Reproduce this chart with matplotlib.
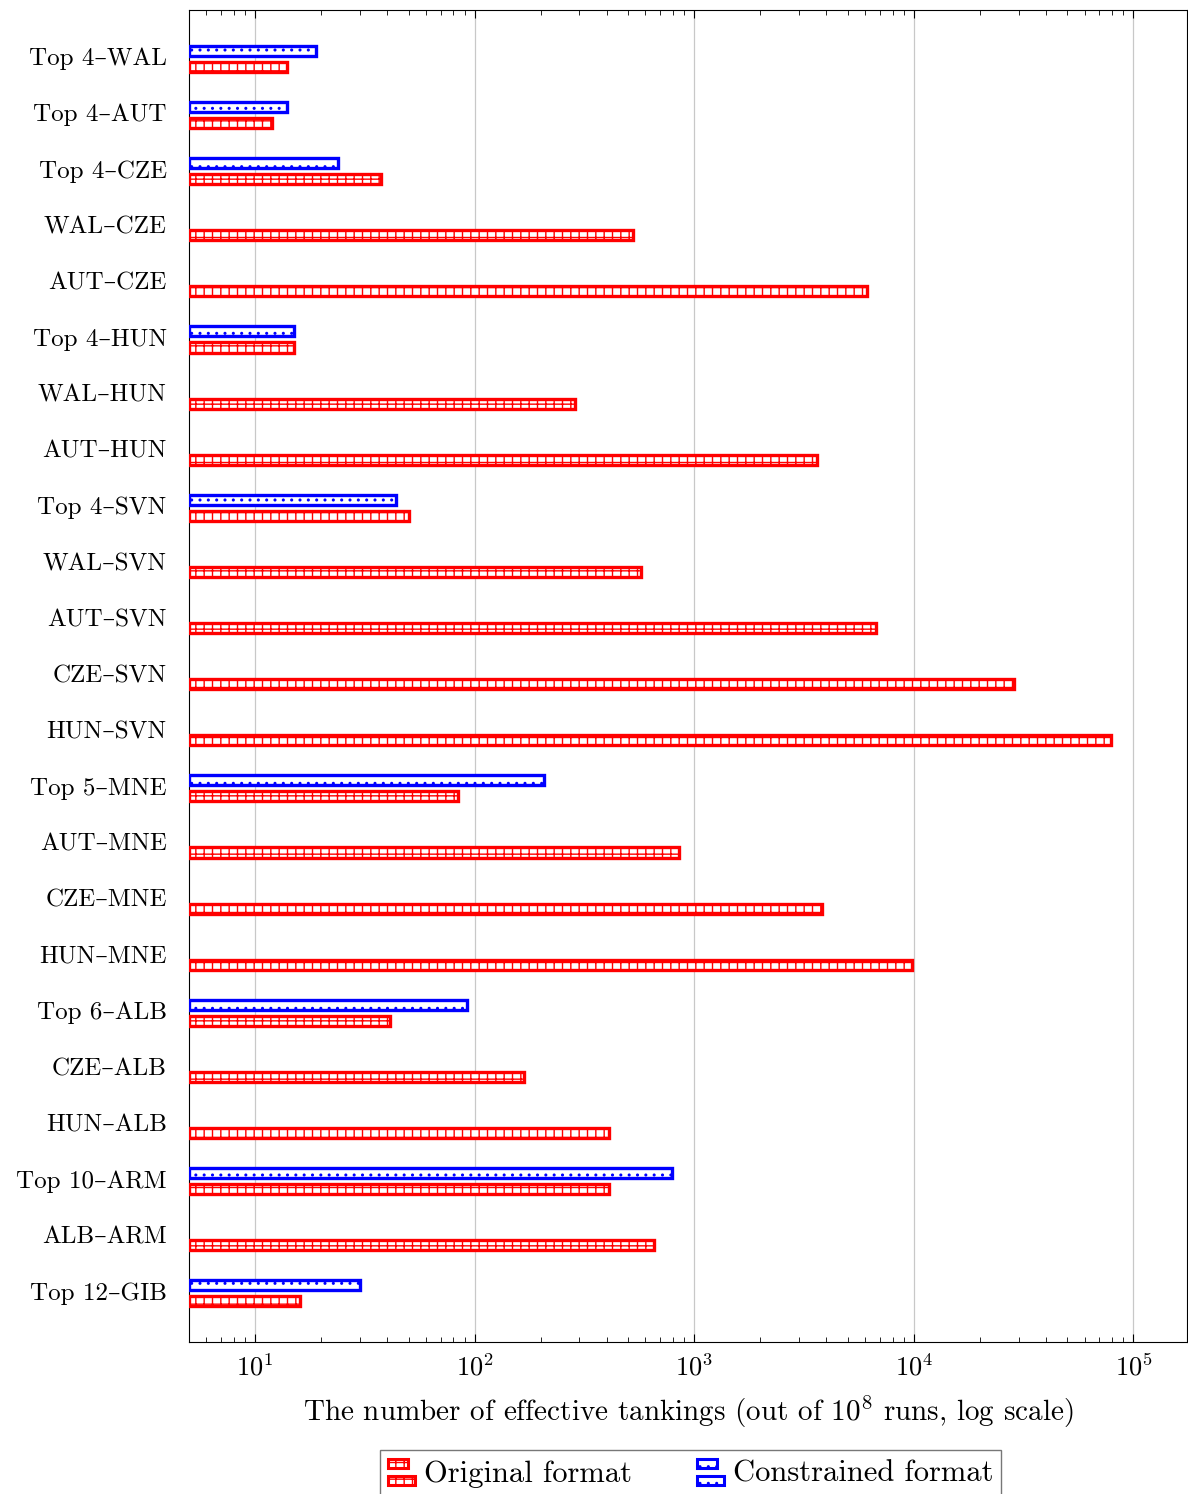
import matplotlib
matplotlib.use("Agg")
import matplotlib.pyplot as plt
import numpy as np
from matplotlib.patches import Patch, Rectangle
from matplotlib.legend_handler import HandlerBase
from matplotlib.ticker import LogLocator, NullFormatter

plt.rcParams['font.family'] = ['cmr10', 'DejaVu Serif']
plt.rcParams['mathtext.fontset'] = 'cm'
plt.rcParams['axes.formatter.use_mathtext'] = True
plt.rcParams['hatch.linewidth'] = 1.0

categories = ["Top 4–WAL", "Top 4–AUT", "Top 4–CZE", "WAL–CZE", "AUT–CZE",
              "Top 4–HUN", "WAL–HUN", "AUT–HUN", "Top 4–SVN", "WAL–SVN",
              "AUT–SVN", "CZE–SVN", "HUN–SVN", "Top 5–MNE", "AUT–MNE",
              "CZE–MNE", "HUN–MNE", "Top 6–ALB", "CZE–ALB", "HUN–ALB",
              "Top 10–ARM", "ALB–ARM", "Top 12–GIB"]
original = [14, 12, 37.5, 529, 6110, 15, 288, 3615, 50, 575, 6715, 28600, 79200,
            84, 849, 3810, 9800, 41, 168, 411, 411, 653, 16]
constrained = [19, 14, 24, None, None, 15, None, None, 44, None, None, None, None,
               206, None, None, None, 92, None, None, 789, None, 30]


class TwoBarHandler(HandlerBase):
    def create_artists(self, legend, orig_handle, xdescent, ydescent, width,
                       height, fontsize, trans):
        ec = orig_handle.get_edgecolor()
        hatch = orig_handle.get_hatch()
        bh = height * 0.32
        r1 = Rectangle((-xdescent, -ydescent + height * 0.62), width * 0.75, bh,
                       facecolor='white', edgecolor=ec, hatch=hatch, linewidth=2.2,
                       transform=trans)
        r2 = Rectangle((-xdescent, -ydescent + height * 0.0), width, bh,
                       facecolor='white', edgecolor=ec, hatch=hatch, linewidth=2.2,
                       transform=trans)
        return [r1, r2]


fig = plt.figure(figsize=(11.88, 14.94), dpi=100)
ax = fig.add_axes([0.159, 0.1017, 0.840, 0.8916])

y = np.arange(len(categories))
h = 0.18
off = 0.145
xmin = 5
ax.barh(y + off, np.array(original) - xmin, left=xmin, height=h, facecolor='white',
        edgecolor='red', hatch='++', linewidth=2.4, zorder=3)
cy = [yy for yy, v in zip(y, constrained) if v is not None]
cv = [v for v in constrained if v is not None]
ax.barh(np.array(cy) - off, np.array(cv) - xmin, left=xmin, height=h, facecolor='white',
        edgecolor='blue', hatch='..', linewidth=2.4, zorder=3)

ax.set_xscale('log')
ax.set_xlim(xmin, 1.75e5)
ax.set_ylim(len(categories) - 0.13, -0.87)
ax.set_yticks(y - 0.04)
ax.set_yticklabels(categories, fontsize=18)
ax.tick_params(axis='y', length=0, pad=16)
ax.xaxis.set_major_locator(LogLocator(base=10, numticks=10))
ax.xaxis.set_minor_locator(LogLocator(base=10, subs=np.arange(2, 10), numticks=10))
ax.xaxis.set_minor_formatter(NullFormatter())
ax.tick_params(axis='x', which='major', direction='in', top=True, length=6,
               labelsize=19, pad=8)
ax.tick_params(axis='x', which='minor', direction='in', top=True, length=3.5)
ax.grid(axis='x', which='major', color='#c8c8c8', linewidth=0.9, zorder=0)
ax.set_axisbelow(True)
ax.set_xlabel(r"The number of effective tankings (out of $10^8$ runs, log scale)",
              fontsize=21, labelpad=10)

handles = [Patch(facecolor='white', edgecolor='red', hatch='++', linewidth=2.2),
           Patch(facecolor='white', edgecolor='blue', hatch='..', linewidth=2.2)]
fig.legend(handles, ["Original format", "Constrained format"], loc='upper center',
           bbox_to_anchor=(0.5815, 0.0294), ncol=2, fontsize=22, frameon=True,
           fancybox=False, edgecolor='#555555', handlelength=0.9, handleheight=1.0,
           handletextpad=0.3, columnspacing=2.1, borderaxespad=0, borderpad=0.25,
           handler_map={Patch: TwoBarHandler()})

fig.savefig("out.png", dpi=100)
